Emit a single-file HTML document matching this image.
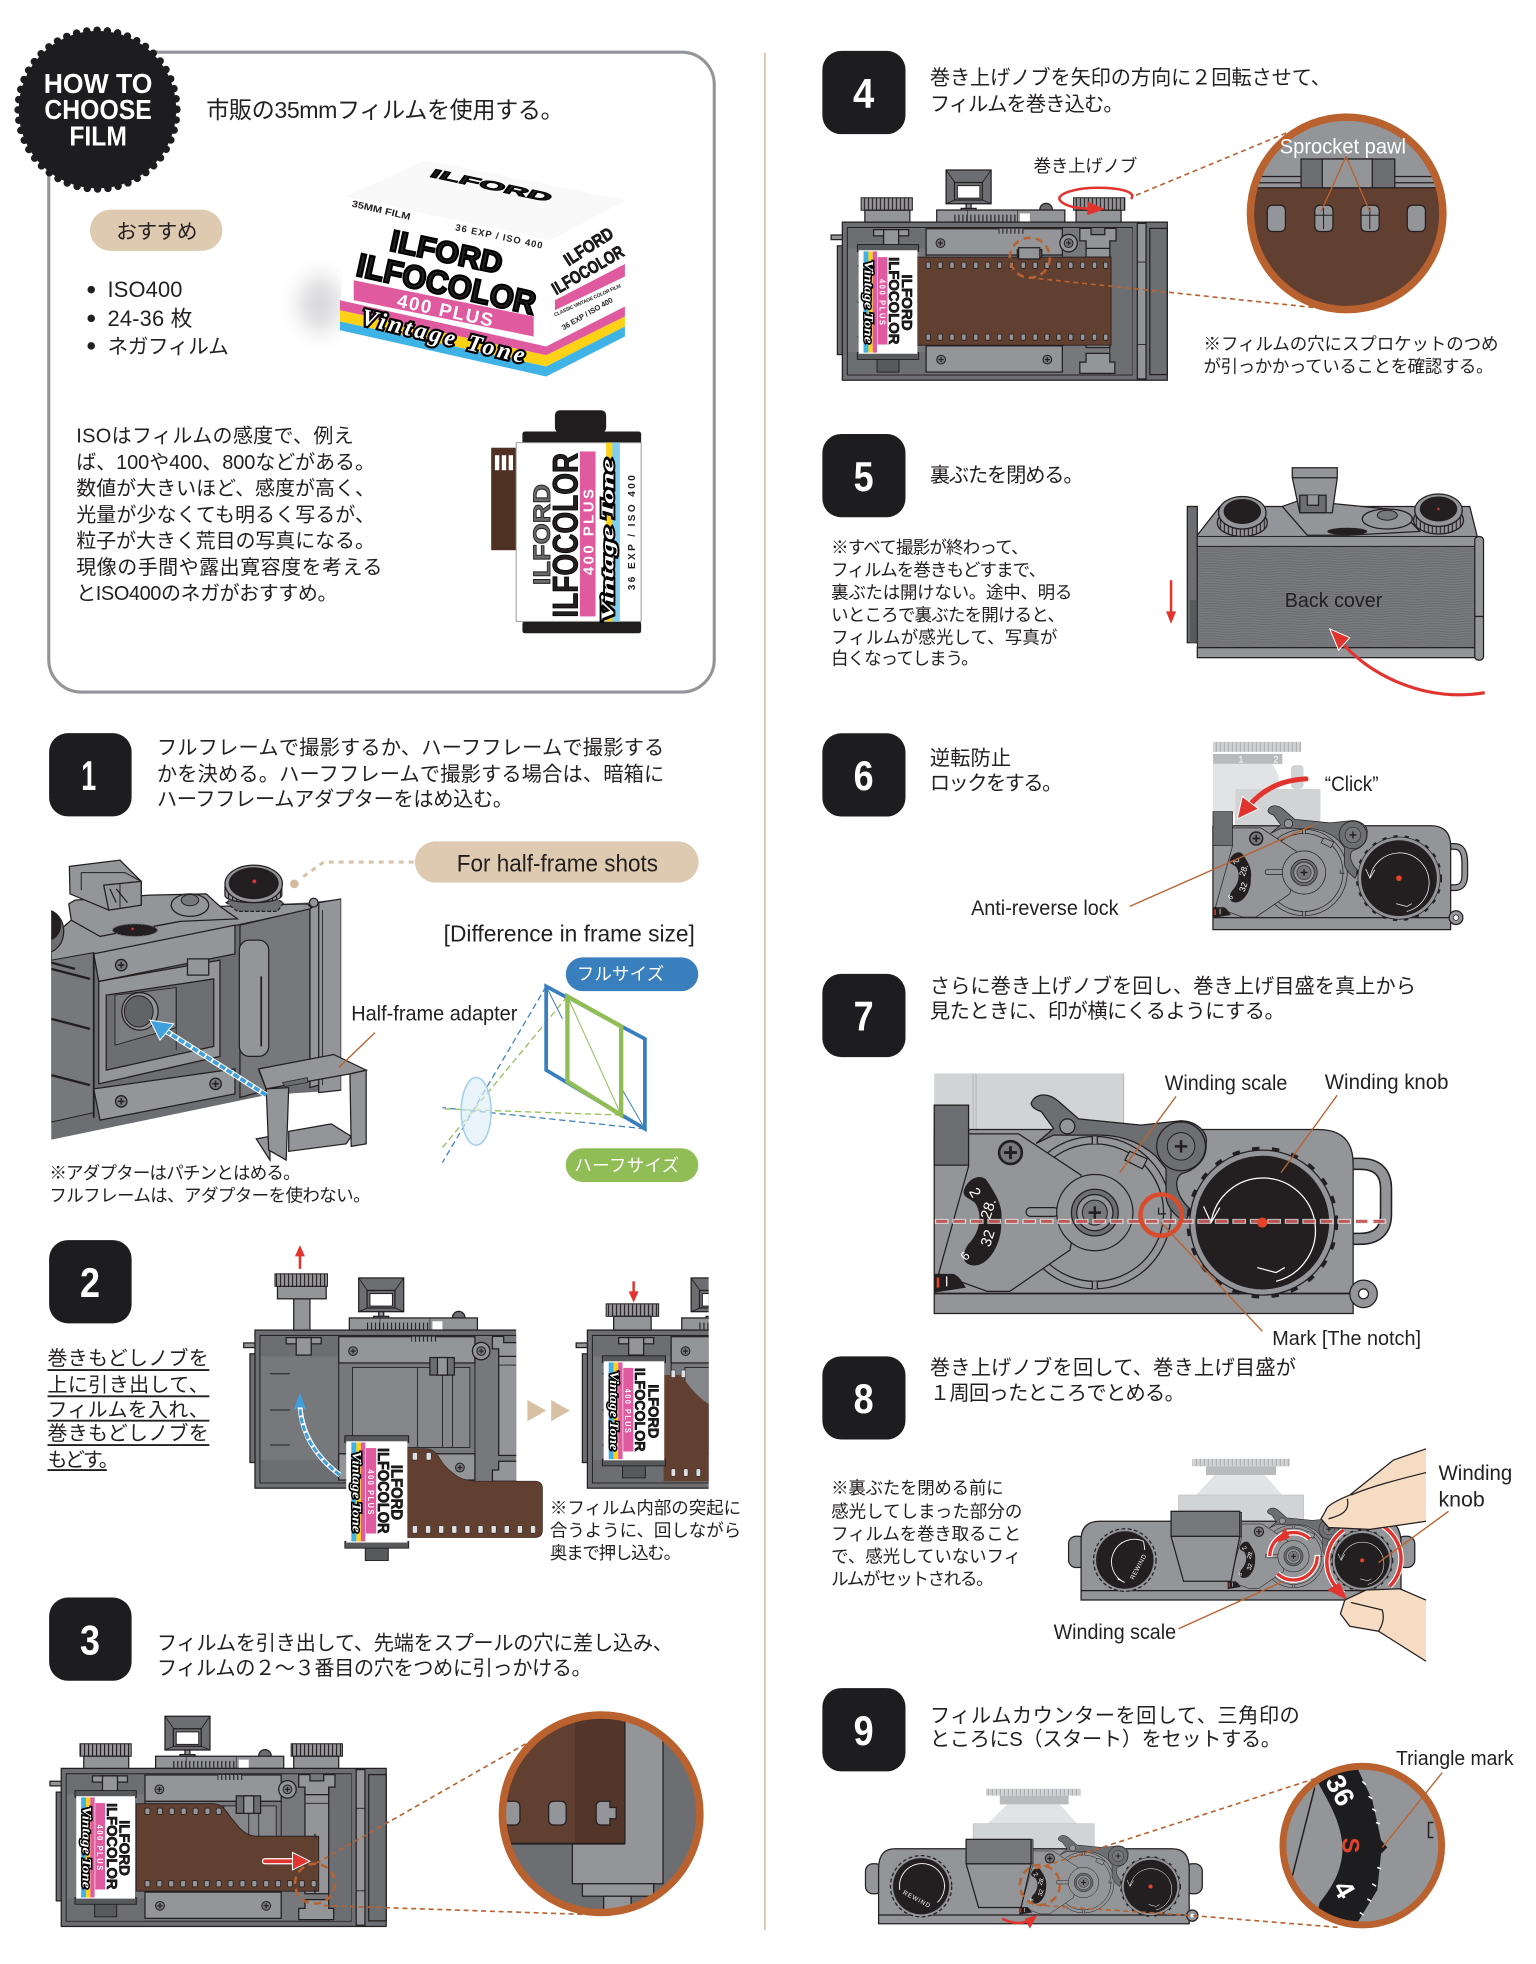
<!DOCTYPE html>
<html lang="ja"><head><meta charset="utf-8"><title>How to choose film</title>
<style>
html,body{margin:0;padding:0;background:#fff}
svg{display:block;width:1536px;height:1964px}
text{font-family:"Liberation Sans","Noto Sans CJK JP",sans-serif;fill:#231f20}
.j{font-size:16.2px}.n{font-size:14px}
.num{font-size:33px;font-weight:700;fill:#fff;text-anchor:middle}
.b{font-weight:700}
.g{fill:#939598;stroke:#231f20;stroke-width:1}
.d{fill:#6d6e71;stroke:#231f20;stroke-width:1}
.m{fill:#77787b;stroke:#231f20;stroke-width:.8}
.ld{stroke:#b9622f;stroke-width:1.1;fill:none}
.dash{stroke:#b9622f;stroke-width:1.3;stroke-dasharray:4 3;fill:none}
.ring{stroke:#b9622f;fill:none}
.scr{font-weight:700;font-style:italic;font-family:"Liberation Serif",serif;fill:#fff;stroke:#000;paint-order:stroke}
</style></head><body>
<svg xmlns="http://www.w3.org/2000/svg" viewBox="0 0 1229 1571">
<defs>
<pattern id="kn" width="3.2" height="10" patternUnits="userSpaceOnUse"><rect width="3.2" height="10" fill="#939598"/><rect width=".9" height="10" fill="#231f20"/></pattern>
<pattern id="kn2" width="3.2" height="10" patternUnits="userSpaceOnUse"><rect width="3.2" height="10" fill="#d1d3d4"/><rect width=".8" height="10" fill="#a7a9ac"/></pattern>
<pattern id="wood" width="30" height="4" patternUnits="userSpaceOnUse"><rect width="30" height="4" fill="#7a7b7e"/><path d="M0 1Q8 .2 15 1.200T30 1M0 3Q9 2.400 17 3.200T30 3" stroke="#66676a" stroke-width=".6" fill="none"/></pattern>
<filter id="bl" x="-100%" y="-100%" width="300%" height="300%"><feGaussianBlur stdDeviation="9"/></filter>
<clipPath id="c1"><rect x="41" y="680" width="232" height="240"/></clipPath>
<clipPath id="c2a"><rect x="190" y="990" width="223" height="210"/></clipPath>
<clipPath id="c2b"><rect x="460" y="1010" width="107" height="190"/></clipPath>
<clipPath id="cc3"><circle cx="481" cy="1451" r="79"/></clipPath>
<clipPath id="cc4"><circle cx="1077.500" cy="170.500" r="77"/></clipPath>
<clipPath id="cc9"><circle cx="1090" cy="1476.500" r="63.500"/></clipPath>
<g id="sc"><circle r="3.500" fill="#77787b" stroke="#231f20" stroke-width=".8"/><path d="M-2 0H2M0-2V2" stroke="#231f20" stroke-width=".9"/></g>
<g id="cam">
<rect x="83" y="-41.700" width="36" height="27" class="d"/><path d="M83-41.700l7 10M119-41.700l-7 10M83-14.700l7-3M119-14.700l-7-3" stroke="#231f20" stroke-width=".7"/><rect x="89.700" y="-31.700" width="22.300" height="14" class="d"/><rect x="92" y="-29.200" width="18" height="10" fill="#fff" stroke="#231f20" stroke-width=".8"/><rect x="99" y="-14.700" width="4" height="6" class="g"/><rect x="95" y="-11" width="12" height="2" class="g"/>
<circle cx="163" cy="-10" r="5" class="d"/>
<rect x="75.500" y="-9.700" width="102.500" height="9.700" class="g"/><rect x="88" y="-6" width="52" height="6" fill="url(#kn)"/><path d="M100-9.700V0M140-9.700V0" stroke="#231f20" stroke-width=".5"/><rect x="142" y="-7" width="8" height="7" fill="#fff"/>
<rect x="-9" y="10.300" width="10" height="3.700" class="g"/><rect x="-4" y="19" width="4.500" height="87" class="d"/>
<rect x="0" y="0" width="260" height="126.500" class="d" stroke-width="1.400"/>
<rect x="4" y="4.300" width="228" height="118" class="m" stroke-width="1.100"/>
<rect x="236" y="1" width="7" height="124.500" class="g"/><rect x="246" y="5" width="14" height="117" class="d"/><path d="M236 32H243M236 98H243" stroke="#231f20" stroke-width=".7"/>
<rect x="4.500" y="5" width="62" height="16" fill="#6d6e71"/><rect x="4.500" y="104" width="62" height="18" fill="#6d6e71"/>
<path d="M12 35H28M12 64H28M12 92H28" stroke="#231f20" stroke-width=".8"/>
<rect x="25" y="6" width="28" height="5" class="g"/><rect x="33" y="6" width="12" height="14" class="g"/>
<rect x="67" y="26.300" width="109" height="72.700" class="m"/><rect x="78" y="30" width="94" height="64" fill="#85868a" stroke="#231f20" stroke-width=".7"/><path d="M130 30V94M150 30V94M158 30V94" stroke="#231f20" stroke-width=".7"/>
<rect x="67" y="5.300" width="109" height="21" class="g"/><rect x="67" y="99" width="109" height="21" class="g"/><rect x="125" y="5.300" width="20" height="4" fill="url(#kn)"/>
<rect x="140" y="22" width="19.500" height="14" class="d"/><rect x="146" y="22" width="8" height="14" class="g"/>
<use href="#sc" x="78.500" y="16.800"/><use href="#sc" x="79" y="110"/><use href="#sc" x="164" y="110"/>
<circle cx="181" cy="16.800" r="7" class="g"/><use href="#sc" x="181" y="16.800"/>
<rect x="214" y="5" width="18" height="117" fill="#6d6e71"/><path d="M214 5V122" stroke="#231f20" stroke-width=".7"/>
<rect x="195" y="16.300" width="19" height="84" class="g"/><path d="M195 28H214" stroke="#231f20" stroke-width=".7"/>
<path d="M190 5h9v5h11v-5h9v10h-5v6h-19v-6h-5z" class="g"/><path d="M190 121v-9h5v-7h19v7h4v9z" class="g"/>
</g>
<g id="cart">
<rect x="15" y="93" width="18" height="13" fill="#58595b" stroke="#231f20" stroke-width=".8"/>
<rect x="-1" y="-5" width="50" height="6" fill="#58595b" stroke="#231f20" stroke-width=".8"/><rect x="-1" y="89" width="50" height="6" fill="#58595b" stroke="#231f20" stroke-width=".8"/>
<rect width="48" height="90" fill="#fff"/>
<rect x="4" y="1" width="4" height="88" fill="#3fb3e6"/><rect x="8" y="1" width="3.500" height="88" fill="#fcd116"/><rect x="11.500" y="1" width="3.500" height="88" fill="#e05aa0"/><rect x="15.500" y="6" width="8" height="76" fill="#e05aa0"/>
<text transform="translate(35.500,21) rotate(90)" class="b" font-size="12" textLength="49" lengthAdjust="spacingAndGlyphs" stroke="#000" stroke-width=".5">ILFORD</text>
<text transform="translate(25,6) rotate(90)" class="b" font-size="12" textLength="76" lengthAdjust="spacingAndGlyphs" stroke="#000" stroke-width=".5">ILFOCOLOR</text>
<text transform="translate(17,25) rotate(90)" class="b" font-size="6.500" style="fill:#fff" textLength="40">400 PLUS</text>
<text transform="translate(5,9) rotate(90)" class="scr" font-size="10" stroke-width="2.400" textLength="72" lengthAdjust="spacingAndGlyphs">Vintage Tone</text>
</g>
<g id="wind">
<path d="M747.500 884H775V932H747.500Z" class="d" stroke-width="1.300"/>
<circle cx="876" cy="970" r="61" class="g" stroke-width="1.300"/><circle cx="876" cy="970" r="55" fill="none" stroke="#231f20" stroke-width="1"/><path d="M876 909V915M876 1025V1031" stroke="#231f20" stroke-width="5"/><path d="M876 909V915M876 1025V1031" stroke="#939598" stroke-width="3"/>
<path d="M904 921L918 927L914 935L900 928Z" class="g"/>
<path d="M775 907H815L865 940V958L856 1000L808 1033H790L751 1019L775 933Z" class="g" stroke-width="1.300"/>
<use href="#sc" transform="translate(808.500,922) scale(2.600)"/>
<path d="M771 953C774 942 786 938 790 945C798 957 803 966 801 978C802 995 790 1015 777 1012C768 1010 771 1000 775 995C785 985 786 970 780 962C775 958 771 958 771 953Z" fill="#231f20"/>
<text transform="translate(775,953) rotate(60)" font-size="12" style="fill:#fff">2</text><text transform="translate(792,976) rotate(-72)" font-size="12" style="fill:#fff">28.</text><text transform="translate(792,998) rotate(-72)" font-size="12" style="fill:#fff">32</text><text transform="translate(773,1009) rotate(-50)" font-size="10" style="fill:#fff">6</text>
<path d="M747.500 1019H763C768 1021 770 1026 773 1030L747.500 1034Z" fill="#231f20"/><rect x="749.500" y="1022" width="2" height="8" fill="#e4432a"/><rect x="757" y="1021" width="1" height="8" fill="#fff"/>
<rect x="821" y="966" width="26" height="7" rx="3.500" class="g"/>
<circle cx="876" cy="970" r="30.500" class="g" stroke-width="1.300"/><circle cx="876" cy="970" r="18.700" class="d" stroke-width="1.200"/><circle cx="876" cy="970" r="14.500" class="g"/><circle cx="876" cy="970" r="10" class="m"/><path d="M871 970H881M876 965V975" stroke="#231f20" stroke-width="2"/>
<path d="M825 883C827 875 838 873 847 881L863 895L913 900L945 896.500C958 897 967 906 965 915C966 928 956 936 945 939C938 945 942 958 953 968L948 978C940 972 934 966 933 958V935L925 925C915 916 900 908 880 908C865 908 855 908 843 908L829 914.700L843 902.700L833 889C829 888 826 886 825 883Z" class="d" stroke-width="1.300"/>
<circle cx="854" cy="901" r="6" class="g"/>
<circle cx="945" cy="917" r="19.500" class="d" stroke-width="1.300"/><circle cx="945" cy="917" r="11" class="m" stroke-width="1.300"/><path d="M940 917H950M945 912V922" stroke="#231f20" stroke-width="2"/>
<path d="M927 966V971H933" fill="none" stroke="#231f20"/>
<circle cx="1010" cy="978" r="58" class="g" stroke-width="1.300"/><circle cx="1010" cy="978" r="59.500" fill="none" stroke="#231f20" stroke-width="2.500" stroke-dasharray="6 10"/><circle cx="1010" cy="978" r="53.500" fill="#231f20"/>
<path d="M1021 1025A42 42 0 1 0 969 978M963 965L969 978L976 966M1006 1014L1021 1018L1028 1014" fill="none" stroke="#fff" stroke-width="1"/><circle cx="1010" cy="978" r="4" fill="#e4432a"/>
</g>
</defs>
<rect width="1229" height="1571" fill="#fff"/>
<line x1="612" y1="42" x2="612" y2="1544" stroke="#dcc5b0" stroke-width="1.500"/>

<!-- HOW TO box -->
<rect x="39" y="41.500" width="532.500" height="512" rx="26" fill="#fff" stroke="#939598" stroke-width="2.500"/>
<circle cx="78" cy="87.500" r="63" fill="#1d1c1e"/><circle cx="78" cy="87.500" r="63.500" fill="none" stroke="#1d1c1e" stroke-width="6" stroke-linecap="round" stroke-dasharray="0 8.300"/>
<text x="78.500" y="74" text-anchor="middle" class="b" font-size="22" style="fill:#fff" textLength="87" lengthAdjust="spacingAndGlyphs">HOW TO</text>
<text x="78.500" y="95" text-anchor="middle" class="b" font-size="22" style="fill:#fff" textLength="86" lengthAdjust="spacingAndGlyphs">CHOOSE</text>
<text x="78.500" y="116" text-anchor="middle" class="b" font-size="22" style="fill:#fff" textLength="46" lengthAdjust="spacingAndGlyphs">FILM</text>
<text x="165" y="94" font-size="18.500" textLength="286">市販の35mmフィルムを使用する。</text>
<rect x="72" y="167.500" width="106" height="33" rx="16.500" fill="#decab0"/><text x="93" y="190.500" font-size="16.500" textLength="65">おすすめ</text>
<circle cx="73" cy="231.500" r="3" fill="#231f20"/><circle cx="73" cy="254.500" r="3" fill="#231f20"/><circle cx="73" cy="276.500" r="3" fill="#231f20"/>
<text x="86" y="237.500" font-size="17.500" textLength="60">ISO400</text><text x="86" y="260.500" font-size="17.500" textLength="68">24-36 枚</text><text x="86" y="282.500" font-size="16.500" textLength="97">ネガフィルム</text>
<g font-size="16">
<text x="61" y="354" textLength="222">ISOはフィルムの感度で、例え</text>
<text x="61" y="375" textLength="239">ば、100や400、800などがある。</text>
<text x="61" y="396" textLength="239">数値が大きいほど、感度が高く、</text>
<text x="61" y="417" textLength="239">光量が少なくても明るく写るが、</text>
<text x="61" y="438" textLength="239">粒子が大きく荒目の写真になる。</text>
<text x="61" y="459" textLength="245">現像の手間や露出寛容度を考える</text>
<text x="61" y="480" textLength="209">とISO400のネガがおすすめ。</text>
</g>
<!-- film box -->
<ellipse cx="256" cy="243" rx="16" ry="22" fill="#d6d6d8" filter="url(#bl)"/>
<path d="M276 157L341 128L501 160L440 192Z" fill="#f9f9fa"/>
<path d="M276 157L440 192L437 301L272 264Z" fill="#fff"/>
<path d="M440 192L501 160L500 269L437 301Z" fill="#fefefe"/>
<path d="M272 240L437 277L500 245V253L437 284L272 248Z" fill="#e05aa0"/><path d="M272 248L437 284L500 253V261L437 293L272 257Z" fill="#fcd116"/><path d="M272 257L437 293L500 261V269L437 301L272 264Z" fill="#3fb3e6"/>
<path d="M283 224L427 253V269L283 240Z" fill="#e05aa0"/>
<path d="M444 240L500 211V221L444 248Z" fill="#e05aa0"/>
<text transform="translate(281,165) rotate(13)" class="b" font-size="7.500" textLength="48" lengthAdjust="spacingAndGlyphs">35MM FILM</text>
<text transform="translate(364,184) rotate(12)" class="b" font-size="7.500" textLength="71">36 EXP / ISO 400</text>
<text transform="translate(311,200) rotate(12)" class="b" font-size="24" stroke="#000" stroke-width="1.800" textLength="91" lengthAdjust="spacingAndGlyphs">ILFORD</text>
<text transform="translate(284,220) rotate(12.500)" class="b" font-size="26" stroke="#000" stroke-width="1.800" textLength="146" lengthAdjust="spacingAndGlyphs">ILFOCOLOR</text>
<text transform="translate(317,245) rotate(12)" class="b" font-size="15" style="fill:#fff" textLength="78">400 PLUS</text>
<text transform="translate(288,259) rotate(13.500)" class="scr" font-size="19" stroke-width="3.500" textLength="134">Vintage Tone</text>
<text transform="translate(343,141) rotate(12) skewX(-25)" class="b" font-size="10" stroke="#000" stroke-width=".7" textLength="98" lengthAdjust="spacingAndGlyphs">ILFORD</text>
<text transform="translate(455,213) rotate(-33)" class="b" font-size="14" stroke="#000" stroke-width=".5" textLength="44" lengthAdjust="spacingAndGlyphs">ILFORD</text>
<text transform="translate(445,236) rotate(-30)" class="b" font-size="14" stroke="#000" stroke-width=".5" textLength="64" lengthAdjust="spacingAndGlyphs">ILFOCOLOR</text>
<text transform="translate(444,253) rotate(-24)" class="b" font-size="4" textLength="58">CLASSIC VINTAGE COLOR FILM</text>
<text transform="translate(451,264) rotate(-30)" class="b" font-size="6" textLength="46">36 EXP / ISO 400</text>
<!-- big cartridge -->
<rect x="393" y="358" width="21" height="82" fill="#4f3124"/><g fill="#fff"><rect x="396" y="364" width="3.500" height="12"/><rect x="401.500" y="364" width="3.500" height="12"/><rect x="407" y="364" width="3.500" height="12"/></g>
<rect x="444" y="328" width="41" height="18" rx="4" fill="#1f1d1e"/><rect x="418" y="345" width="95" height="10" rx="2" fill="#1f1d1e"/><rect x="418" y="497" width="95" height="9.500" rx="2" fill="#1f1d1e"/>
<rect x="413" y="354" width="100" height="143" fill="#fff" stroke="#9a9a9c" stroke-width=".8"/>
<rect x="464" y="361" width="12.500" height="132" fill="#e05aa0"/><rect x="485" y="354" width="5" height="143" fill="#fcd116"/><rect x="490" y="354" width="6" height="143" fill="#7fcdf0"/>
<text transform="translate(440,468) rotate(-90)" class="b" font-size="19" stroke="#222" stroke-width=".7" style="fill:#6a6a6c" textLength="81" lengthAdjust="spacingAndGlyphs">ILFORD</text>
<text transform="translate(462,494) rotate(-90)" class="b" font-size="28" stroke="#000" stroke-width=".7" textLength="132" lengthAdjust="spacingAndGlyphs">ILFOCOLOR</text>
<text transform="translate(475,460) rotate(-90)" class="b" font-size="12" style="fill:#fff" textLength="69">400 PLUS</text>
<text transform="translate(491,497) rotate(-90)" class="scr" font-size="14" stroke-width="3" textLength="130" lengthAdjust="spacingAndGlyphs">Vintage Tone</text>
<text transform="translate(508,472) rotate(-90)" class="b" font-size="8" textLength="92">36 EXP / ISO 400</text>

<!-- badges -->
<g fill="#1d1c1e"><rect x="39.300" y="586.400" width="66" height="66.600" rx="15"/><rect x="39.300" y="992" width="66" height="66.600" rx="15"/><rect x="39.300" y="1278" width="66" height="66.600" rx="15"/>
<rect x="658" y="40.500" width="66.500" height="66.600" rx="15"/><rect x="658" y="347" width="66.500" height="66.600" rx="15"/><rect x="658" y="586.500" width="66.500" height="66.600" rx="15"/><rect x="658" y="779" width="66.500" height="66.600" rx="15"/><rect x="658" y="1085" width="66.500" height="66.600" rx="15"/><rect x="658" y="1350.500" width="66.500" height="66.600" rx="15"/></g>
<text class="num" x="71" y="632" textLength="12" lengthAdjust="spacingAndGlyphs">1</text><text class="num" x="72" y="1037.500" textLength="16" lengthAdjust="spacingAndGlyphs">2</text><text class="num" x="72" y="1323.500" textLength="16" lengthAdjust="spacingAndGlyphs">3</text>
<text class="num" x="691" y="86" textLength="17" lengthAdjust="spacingAndGlyphs">4</text><text class="num" x="691" y="392.500" textLength="16" lengthAdjust="spacingAndGlyphs">5</text><text class="num" x="691" y="632" textLength="16" lengthAdjust="spacingAndGlyphs">6</text><text class="num" x="691" y="824.500" textLength="16" lengthAdjust="spacingAndGlyphs">7</text><text class="num" x="691" y="1130.500" textLength="16" lengthAdjust="spacingAndGlyphs">8</text><text class="num" x="691" y="1396" textLength="16" lengthAdjust="spacingAndGlyphs">9</text>

<!-- STEP 1 -->
<text x="125.500" y="603.500" class="j" textLength="406">フルフレームで撮影するか、ハーフフレームで撮影する</text>
<text x="125.500" y="624.500" class="j" textLength="406">かを決める。ハーフフレームで撮影する場合は、暗箱に</text>
<text x="125.500" y="644.500" class="j" textLength="285">ハーフフレームアダプターをはめ込む。</text>
<rect x="332" y="673" width="227" height="33" rx="16.500" fill="#decab0"/><text x="365.500" y="697" font-size="19" textLength="161" lengthAdjust="spacingAndGlyphs">For half-frame shots</text>
<path d="M331 689.500H259L240 703" fill="none" stroke="#d8c4ac" stroke-width="2.500" stroke-dasharray="4 4"/><circle cx="235.500" cy="707" r="3.500" fill="#d2bca2"/>
<text x="355" y="753" font-size="18.500" textLength="201" lengthAdjust="spacingAndGlyphs">[Difference in frame size]</text>
<rect x="452.700" y="765.800" width="106" height="27" rx="13.500" fill="#3a7fbd"/><text x="461.500" y="784" font-size="14" style="fill:#fff" textLength="70">フルサイズ</text>
<rect x="452.700" y="918.500" width="106" height="27" rx="13.500" fill="#90bd55"/><text x="459.500" y="937" font-size="14" style="fill:#fff" textLength="84">ハーフサイズ</text>
<!-- lens diagram -->
<path d="M437 789L354 930M516 903L354 886" stroke="#3a7fbd" stroke-width="1" stroke-dasharray="5 3" fill="none"/><path d="M454 797L354 918M497 892L354 887" stroke="#90bd55" stroke-width="1" stroke-dasharray="5 3" fill="none"/>
<ellipse cx="381" cy="889" rx="12" ry="27" fill="#dbeef8" fill-opacity=".65" stroke="#a6d1ea" stroke-width="1.300"/>
<path d="M437 789L516 831V903L437 856Z" fill="none" stroke="#3a7fbd" stroke-width="3"/>
<path d="M437 789L450 815M497 870L516 903" stroke="#3a7fbd" stroke-width=".8"/>
<path d="M454 797L497 821V892L454 865Z" fill="#fff" fill-opacity=".75" stroke="#90bd55" stroke-width="3.500"/><path d="M454 797L497 892" stroke="#90bd55" stroke-width=".8"/>
<!-- camera 1 -->
<g clip-path="url(#c1)">
<path d="M30 770L41 750L55 738L80 749L144 737L176 725L245 722L273 719V872L213 876L30 914Z" fill="#6d6e71"/>
<path d="M41 767L41 750L57 736L80 749L144 737L176 725L246 723L250 727L41 772Z" class="g"/>
<path d="M30 770L75 762V890L30 900Z" fill="#77787b" stroke="#231f20" stroke-width=".8"/>
<path d="M41 775L72 783M41 815L72 823M41 860L72 868M41 770L60 775" stroke="#231f20" stroke-width="1.800"/><path d="M75 762V894" stroke="#231f20" stroke-width="1.500"/>
<path d="M192 740L248 727V862L192 878Z" fill="#77787b" stroke="#231f20"/>
<rect x="191.500" y="752" width="23.500" height="93" rx="8" class="g"/><path d="M209 781V837" stroke="#231f20" stroke-width="1.400"/>
<path d="M248 727L255 722V868L248 870ZM255 722L273 719V872L255 874Z" class="g"/><circle cx="251" cy="722" r="3.500" class="g"/><path d="M258 728V868" stroke="#231f20" stroke-width=".7"/>
<path d="M79 785L176 768V845L79 867Z" class="g"/>
<path d="M85 796L171 783V837L85 856Z" fill="#6d6e71" stroke="#231f20"/><path d="M92 796V836L141 822V790Z" fill="#7b7c7f" stroke="#231f20" stroke-width=".7"/><path d="M141 790V840" stroke="#231f20" stroke-width=".7"/>
<ellipse cx="112" cy="809" rx="14.500" ry="15" class="g"/><ellipse cx="111" cy="809" rx="11.500" ry="12.500" fill="#626366" stroke="#231f20" stroke-width=".8"/>
<path d="M75 763L188 740V763L79 785Z" class="g"/><use href="#sc" transform="translate(97,772) scale(1.300)"/>
<rect x="150" y="767" width="17" height="13" class="g"/>
<path d="M75 871L188 855V875L80 896Z" class="g"/><use href="#sc" transform="translate(97,881) scale(1.300)"/><use href="#sc" transform="translate(172.500,867) scale(1.300)"/>
<ellipse cx="37" cy="745" rx="14" ry="17" class="d"/><ellipse cx="36" cy="740" rx="13" ry="13" fill="#231f20"/>
<path d="M55 723L60 720L120 716L165 715L176 725L190 735L144 737L80 749L57 736Z" class="g"/>
<ellipse cx="108" cy="744" rx="18" ry="5" fill="#231f20" stroke="#6d6e71" stroke-width=".8" stroke-dasharray="2 1"/><circle cx="106" cy="743" r="1" fill="#e1342e"/>
<ellipse cx="152" cy="724" rx="15" ry="9" class="g"/><ellipse cx="152" cy="720" rx="7" ry="4.500" class="m"/>
<path d="M55.500 693L96 688L113 705V724L87 728L56 715Z" class="g"/><path d="M65 698V712M65 698H100L113 705" fill="none" stroke="#231f20" stroke-width=".8"/>
<path d="M83 708L113 705V724L87 728Z" fill="#939598" stroke="#231f20"/><path d="M96 707V726" stroke="#231f20" stroke-width=".8"/><path d="M88 711L93 722M93 711L102 722" stroke="#231f20" stroke-width="1"/>
<path d="M181 722L190 716L215 716L227 722L222 729H190Z" class="d" stroke-dasharray="3 1.500"/>
<path d="M180 709V716C180 724 225 724 225.500 716V709Z" fill="url(#kn)" stroke="#231f20"/>
<ellipse cx="203" cy="707" rx="23" ry="15" class="g"/><ellipse cx="203" cy="706.500" rx="20" ry="12.800" fill="#231f20"/><circle cx="203.500" cy="705" r="1.500" fill="#e1342e"/>
</g>
<!-- adapter -->
<path d="M231 905L265 899L281 909L277 915L231 921Z" class="g"/><path d="M205 911L216 909V928Z" class="g"/>
<path d="M280 859L293 856V915L281 917Z" class="g"/>
<path d="M207 856L213 871L231 870L229 928L215 920L213 871Z" class="g"/>
<path d="M207 855L267 843.500L293 856L280 859L224 869L213 871Z" class="g" stroke-width="1.200"/><path d="M226 866L246 862V866L228 869Z" fill="#6d6e71" stroke="#231f20" stroke-width=".6"/>
<path d="M213 876L127 821" stroke="#fff" stroke-width="4.500"/><path d="M213 876L127 821" stroke="#3fa0de" stroke-width="3" stroke-dasharray="5 1.500"/><path d="M120 816L139 819L128 832Z" fill="#3fa0de" stroke="#fff" stroke-width=".8"/>
<line x1="300" y1="826" x2="271" y2="854" class="ld"/>
<text x="281" y="816.500" font-size="17" textLength="133" lengthAdjust="spacingAndGlyphs">Half-frame adapter</text>
<text x="39.500" y="943" class="n" textLength="201">※アダプターはパチンとはめる。</text>
<text x="39.500" y="961" class="n" textLength="257">フルフレームは、アダプターを使わない。</text>

<!-- STEP 2 -->
<g font-size="16"><text x="38" y="1092" textLength="129">巻きもどしノブを</text><text x="38" y="1113" textLength="129">上に引き出して、</text><text x="38" y="1133" textLength="129">フィルムを入れ、</text><text x="38" y="1152" textLength="129">巻きもどしノブを</text><text x="38" y="1173" textLength="57">もどす。</text></g>
<path d="M38 1096H167.500M38 1117H167.500M38 1136.500H167.500M38 1156H167.500M38 1176H85.500" stroke="#231f20" stroke-width="1.500"/>
<path d="M240 1015V1003" stroke="#e1342e" stroke-width="2"/><path d="M240 996L244 1005H236Z" fill="#e1342e"/>
<g clip-path="url(#c2a)"><use href="#cam" transform="translate(204,1064)"/>
<rect x="235" y="1039" width="13" height="25" class="g"/><rect x="222" y="1029" width="39" height="10" class="g"/><rect x="220" y="1019" width="42" height="10" fill="url(#kn)" stroke="#231f20" stroke-width=".8"/></g>
<path d="M272 1180C252 1165 240 1145 240 1121" fill="none" stroke="#fff" stroke-width="4"/><path d="M272 1180C252 1165 240 1145 240 1124" fill="none" stroke="#3fa0de" stroke-width="2.500" stroke-dasharray="5 1.500"/><path d="M240 1114L245 1128L240 1125L235 1128Z" fill="#3fa0de"/>
<path d="M326 1159H340C352 1159 350 1170 362 1178C368 1184 376 1185 385 1185H428Q434 1185 434 1191V1224Q434 1230 428 1230H326Z" fill="#613f31" stroke="#3b2a22" stroke-width=".6"/>
<g fill="#dfe0e1" stroke="#231f20" stroke-width=".4"><rect x="330" y="1162" width="4" height="6" rx="1"/><rect x="341" y="1162" width="4" height="6" rx="1"/><rect x="330" y="1220.500" width="4" height="6" rx="1"/><rect x="340.500" y="1220.500" width="4" height="6" rx="1"/><rect x="351" y="1220.500" width="4" height="6" rx="1"/><rect x="361.500" y="1220.500" width="4" height="6" rx="1"/><rect x="372" y="1220.500" width="4" height="6" rx="1"/><rect x="382.500" y="1220.500" width="4" height="6" rx="1"/><rect x="393" y="1220.500" width="4" height="6" rx="1"/><rect x="403.500" y="1220.500" width="4" height="6" rx="1"/><rect x="414" y="1220.500" width="4" height="6" rx="1"/><rect x="424.500" y="1220.500" width="4" height="6" rx="1"/></g>
<use href="#cart" transform="translate(277,1153) scale(1.020,.9)"/>
<path d="M422 1120L437 1128.500L422 1137ZM441 1120L456 1128.500L441 1137Z" fill="#d8c0a4"/>
<path d="M507 1025V1035" stroke="#e1342e" stroke-width="2"/><path d="M507 1042L503 1033H511Z" fill="#e1342e"/>
<g clip-path="url(#c2b)"><use href="#cam" transform="translate(470,1064)"/>
<rect x="485" y="1043" width="42" height="10" fill="url(#kn)" stroke="#231f20" stroke-width=".8"/><rect x="491" y="1053" width="30" height="11" class="g"/>
<path d="M531 1100H545C552 1110 558 1118 570 1125V1185H531Z" fill="#613f31"/>
<g fill="#dfe0e1" stroke="#231f20" stroke-width=".4"><rect x="537" y="1096" width="3.500" height="6" rx="1"/><rect x="545" y="1096" width="3.500" height="6" rx="1"/><rect x="537" y="1175" width="3.500" height="6" rx="1"/><rect x="547" y="1175" width="3.500" height="6" rx="1"/><rect x="557" y="1175" width="3.500" height="6" rx="1"/></g>
<use href="#cart" transform="translate(483,1089) scale(1.010,.88)"/></g>
<text x="440" y="1211" class="n" textLength="153">※フィルム内部の突起に</text><text x="440" y="1229" class="n" textLength="153">合うように、回しながら</text><text x="440" y="1247" class="n" textLength="105">奥まで押し込む。</text>

<!-- STEP 3 -->
<text x="125.500" y="1320" class="j" textLength="413">フィルムを引き出して、先端をスプールの穴に差し込み、</text>
<text x="125.500" y="1340" class="j" textLength="348">フィルムの２～３番目の穴をつめに引っかける。</text>
<use href="#cam" transform="translate(49,1414.700)"/>
<rect x="64" y="1395" width="41" height="10" fill="url(#kn)" stroke="#231f20" stroke-width=".8"/><rect x="67" y="1405" width="36" height="9.700" class="g"/>
<rect x="233" y="1395" width="41" height="10" fill="url(#kn)" stroke="#231f20" stroke-width=".8"/><rect x="235" y="1405" width="36" height="9.700" class="g"/>
<path d="M109 1443H170C180 1443 182 1452 188 1458C194 1466 200 1469 205 1469H255V1513H109Z" fill="#613f31" stroke="#231f20" stroke-width=".7"/><path d="M252 1467V1470M252 1511V1515" stroke="#231f20"/>
<g fill="#939598" stroke="#231f20" stroke-width=".6"><rect x="116" y="1446.500" width="4" height="5" rx="1"/><rect x="126" y="1446.500" width="4" height="5" rx="1"/><rect x="135.500" y="1446.500" width="4" height="5" rx="1"/><rect x="145" y="1446.500" width="4" height="5" rx="1"/><rect x="154.500" y="1446.500" width="4" height="5" rx="1"/><rect x="164" y="1446.500" width="4" height="5" rx="1"/><rect x="173" y="1446.500" width="4" height="5" rx="1"/>
<rect x="116" y="1504.500" width="4" height="5" rx="1"/><rect x="125.500" y="1504.500" width="4" height="5" rx="1"/><rect x="135" y="1504.500" width="4" height="5" rx="1"/><rect x="144.500" y="1504.500" width="4" height="5" rx="1"/><rect x="154" y="1504.500" width="4" height="5" rx="1"/><rect x="163.500" y="1504.500" width="4" height="5" rx="1"/><rect x="173" y="1504.500" width="4" height="5" rx="1"/><rect x="182.500" y="1504.500" width="4" height="5" rx="1"/><rect x="192" y="1504.500" width="4" height="5" rx="1"/><rect x="201.500" y="1504.500" width="4" height="5" rx="1"/><rect x="211" y="1504.500" width="4" height="5" rx="1"/><rect x="220.500" y="1504.500" width="4" height="5" rx="1"/><rect x="230" y="1504.500" width="4" height="5" rx="1"/><rect x="239.500" y="1504.500" width="4" height="5" rx="1"/><rect x="249" y="1504.500" width="4" height="5" rx="1"/></g>
<use href="#cart" transform="translate(61,1437) scale(.98,.91)"/>
<path d="M212 1489H238" stroke="#fff" stroke-width="5" stroke-linecap="round"/><path d="M212 1489H238" stroke="#e1342e" stroke-width="3" stroke-linecap="round"/><path d="M248 1489L234 1482V1496Z" fill="#e1342e" stroke="#fff" stroke-width=".8"/>
<circle cx="252" cy="1507" r="16" class="ring" stroke-width="2" stroke-dasharray="6 4"/>
<path d="M253 1490.700L426 1392M259 1524.500L481 1532" class="dash"/>
<g clip-path="url(#cc3)"><rect x="400" y="1368" width="165" height="165" fill="#6d6e71"/><rect x="400" y="1368" width="100" height="107" fill="#613f31"/><rect x="460" y="1368" width="40" height="107" fill="#54352a"/>
<path d="M500 1368H530.500V1507H458V1475H500Z" class="g"/><rect x="466" y="1507" width="57" height="10" class="g"/><rect x="483" y="1517" width="22" height="20" class="g"/><path d="M400 1475H500" stroke="#231f20" stroke-width="1.500"/>
<g fill="#939598" stroke="#231f20"><rect x="395" y="1441" width="21" height="19" rx="4"/><rect x="439" y="1441" width="14" height="19" rx="4"/><path d="M481 1441H488V1446H493V1455H488V1460H481Q477 1460 477 1456V1445Q477 1441 481 1441Z"/></g></g>
<circle cx="481" cy="1451" r="79" class="ring" stroke-width="6"/>

<!-- STEP 4 -->
<text x="744" y="67.500" class="j" textLength="321">巻き上げノブを矢印の方向に２回転させて、</text>
<text x="744" y="88.500" class="j" textLength="155">フィルムを巻き込む。</text>
<text x="827" y="137.500" font-size="14" textLength="83">巻き上げノブ</text>
<use href="#cam" transform="translate(674,177.500)"/>
<rect x="689" y="158" width="41" height="10" fill="url(#kn)" stroke="#231f20" stroke-width=".8"/><rect x="692" y="168" width="36" height="9.500" class="g"/>
<rect x="859" y="158" width="41" height="10" fill="url(#kn)" stroke="#231f20" stroke-width=".8"/><rect x="861" y="168" width="36" height="9.500" class="g"/>
<rect x="734" y="205.500" width="155" height="70.500" fill="#613f31" stroke="#231f20" stroke-width=".7"/>
<g fill="#939598" stroke="#231f20" stroke-width=".6"><rect x="741" y="209.500" width="3.500" height="5" rx="1"/><rect x="750.500" y="209.500" width="3.500" height="5" rx="1"/><rect x="760" y="209.500" width="3.500" height="5" rx="1"/><rect x="769.500" y="209.500" width="3.500" height="5" rx="1"/><rect x="779" y="209.500" width="3.500" height="5" rx="1"/><rect x="788.500" y="209.500" width="3.500" height="5" rx="1"/><rect x="798" y="209.500" width="3.500" height="5" rx="1"/><rect x="807.500" y="209.500" width="3.500" height="5" rx="1"/><rect x="817" y="209.500" width="3.500" height="5" rx="1"/><rect x="826.500" y="209.500" width="3.500" height="5" rx="1"/><rect x="836" y="209.500" width="3.500" height="5" rx="1"/><rect x="845.500" y="209.500" width="3.500" height="5" rx="1"/><rect x="855" y="209.500" width="3.500" height="5" rx="1"/><rect x="864.500" y="209.500" width="3.500" height="5" rx="1"/><rect x="874" y="209.500" width="3.500" height="5" rx="1"/><rect x="883" y="209.500" width="3.500" height="5" rx="1"/>
<rect x="741" y="267" width="3.500" height="5" rx="1"/><rect x="750.500" y="267" width="3.500" height="5" rx="1"/><rect x="760" y="267" width="3.500" height="5" rx="1"/><rect x="769.500" y="267" width="3.500" height="5" rx="1"/><rect x="779" y="267" width="3.500" height="5" rx="1"/><rect x="788.500" y="267" width="3.500" height="5" rx="1"/><rect x="798" y="267" width="3.500" height="5" rx="1"/><rect x="807.500" y="267" width="3.500" height="5" rx="1"/><rect x="817" y="267" width="3.500" height="5" rx="1"/><rect x="826.500" y="267" width="3.500" height="5" rx="1"/><rect x="836" y="267" width="3.500" height="5" rx="1"/><rect x="845.500" y="267" width="3.500" height="5" rx="1"/><rect x="855" y="267" width="3.500" height="5" rx="1"/><rect x="864.500" y="267" width="3.500" height="5" rx="1"/><rect x="874" y="267" width="3.500" height="5" rx="1"/><rect x="883" y="267" width="3.500" height="5" rx="1"/></g>
<rect x="815" y="198" width="17" height="9" class="g"/>
<use href="#cart" transform="translate(687,200) scale(.98,.92)"/>
<circle cx="824" cy="206" r="16" class="ring" stroke-width="2" stroke-dasharray="6 4"/>
<path d="M905 159C910 153 895 150 878 150C860 150 845 155 848 160C852 165 862 167 880 167" fill="none" stroke="#e1342e" stroke-width="2"/><path d="M884 167L870 161V172Z" fill="#e1342e"/>
<path d="M909 156L1032 105M824 222L1053 246" class="dash"/>
<g clip-path="url(#cc4)"><rect x="995" y="90" width="170" height="62" fill="#939598"/><rect x="995" y="150" width="170" height="105" fill="#613f31"/>
<path d="M995 141H1165M995 146H1165M995 150H1165" stroke="#231f20" stroke-width="1"/>
<rect x="1041" y="127" width="75" height="23" class="d"/><rect x="1058" y="127" width="40" height="23" class="g"/>
<g class="g"><rect x="1014" y="164" width="14.500" height="21" rx="4"/><rect x="1052" y="164" width="14.500" height="21" rx="4"/><rect x="1089" y="164" width="14.500" height="21" rx="4"/><rect x="1126" y="164" width="14.500" height="21" rx="4"/></g><path d="M1052 172H1066M1089 172H1103M1059 166V183M1096 166V183" stroke="#231f20" stroke-width=".8"/></g>
<circle cx="1077.500" cy="170.500" r="77" class="ring" stroke-width="6"/>
<path d="M1077 125L1057 169M1077 125L1096 169" stroke="#b9622f" stroke-width="1.100" fill="none"/>
<text x="1024" y="122.500" font-size="17" style="fill:#fff" textLength="101" lengthAdjust="spacingAndGlyphs">Sprocket pawl</text>
<text x="963" y="280" class="n" textLength="236">※フィルムの穴にスプロケットのつめ</text>
<text x="963" y="298" class="n" textLength="232">が引っかかっていることを確認する。</text>

<!-- STEP 5 -->
<text x="744" y="385.500" class="j" textLength="123">裏ぶたを閉める。</text>
<text x="665" y="442.500" class="n" textLength="158">※すべて撮影が終わって、</text><text x="665" y="460.500" class="n" textLength="172">フィルムを巻きもどすまで、</text><text x="665" y="478.500" class="n" textLength="193">裏ぶたは開けない。途中、明る</text><text x="665" y="496.500" class="n" textLength="187">いところで裏ぶたを開けると、</text><text x="665" y="514.500" class="n" textLength="181">フィルムが感光して、写真が</text><text x="665" y="531.500" class="n" textLength="118">白くなってしまう。</text>
<rect x="950" y="405" width="8" height="109" class="d"/><rect x="952" y="480" width="6" height="34" fill="#58595b"/>
<path d="M958 437V428L976 405H1176L1182 429V437Z" class="g"/>
<rect x="958" y="429" width="223" height="8" fill="#939598" stroke="#231f20" stroke-width=".8"/>
<rect x="958" y="437" width="223" height="81" fill="url(#wood)" stroke="#231f20" stroke-width=".8"/><rect x="958" y="518" width="223" height="8" class="g"/>
<rect x="1180" y="429" width="7" height="99" rx="3" class="g"/><path d="M1180 493H1187" stroke="#231f20"/>
<path d="M1026 405L1040 400L1120 408L1136 425L1078 428L1046 428Z" class="g"/><ellipse cx="1078" cy="425" rx="16" ry="3" fill="#231f20"/>
<path d="M1034 374H1070V382L1066 410H1040L1034 382Z" class="g"/><path d="M1034 382H1070" stroke="#231f20"/><rect x="1040" y="396" width="21" height="14" class="d"/><path d="M1046 396V404H1055V396" fill="#939598" stroke="#231f20"/>
<ellipse cx="1110" cy="415" rx="20" ry="8" class="g"/><ellipse cx="1110" cy="412" rx="8" ry="4" class="m"/>
<ellipse cx="994" cy="418" rx="20" ry="11" fill="url(#kn)" stroke="#231f20"/><ellipse cx="994" cy="410" rx="19" ry="13" class="g"/><ellipse cx="994" cy="409" rx="15" ry="10" fill="#231f20"/>
<ellipse cx="1151" cy="416" rx="20" ry="11" fill="url(#kn)" stroke="#231f20"/><ellipse cx="1151" cy="408" rx="19" ry="13" class="g"/><ellipse cx="1151" cy="407" rx="15" ry="10" fill="#231f20"/><circle cx="1151" cy="407" r="1" fill="#e1342e"/>
<text x="1028" y="485.500" font-size="16.500" textLength="78" lengthAdjust="spacingAndGlyphs">Back cover</text>
<path d="M937 464V492" stroke="#e1342e" stroke-width="2"/><path d="M937 499L933 489H941Z" fill="#e1342e"/>
<path d="M1188 554C1140 562 1095 540 1072 512" fill="none" stroke="#e1342e" stroke-width="2.500"/><path d="M1064 503L1080 510L1071 520Z" fill="#e1342e" stroke="#fff" stroke-width=".8"/>

<!-- STEP 6 -->
<text x="744" y="612" class="j" textLength="65">逆転防止</text><text x="744" y="632" class="j" textLength="106">ロックをする。</text>
<rect x="970.500" y="593.400" width="70.500" height="8" fill="url(#kn2)"/><rect x="970.500" y="603" width="55.500" height="8" fill="#b9babc"/><text x="991" y="610" font-size="7" style="fill:#fff">1</text><text x="1019" y="610" font-size="7" style="fill:#fff">2</text>
<path d="M970.500 611H1018L1023 620V631H970.500Z" fill="#e2e3e4"/><rect x="1033" y="612" width="10" height="19" rx="3" fill="#d1d3d4"/><rect x="988" y="631" width="68.500" height="30" fill="#d1d3d4"/><rect x="970.500" y="631" width="18" height="20" fill="#e2e3e4"/>
<path d="M1161 677H1164Q1172 677 1172 690V700Q1172 710 1164 710H1161" fill="none" stroke="#231f20" stroke-width="5.500"/><path d="M1161 677H1164Q1172 677 1172 690V700Q1172 710 1164 710H1161" fill="none" stroke="#939598" stroke-width="3.500"/>
<path d="M970.500 660.500H1145Q1160.700 660.500 1160.700 677V743.600H970.500Z" class="g" stroke-width="1.200"/><path d="M970.500 734H1160.700" stroke="#231f20"/>
<g transform="translate(546.700,147.900) scale(.567)"><use href="#wind"/></g>
<circle cx="1165" cy="734" r="5.500" class="g"/><circle cx="1165" cy="734" r="2.200" fill="#fff" stroke="#231f20" stroke-width=".6"/>
<path d="M1045 623C1022 624 1008 634 999 645" fill="none" stroke="#e1342e" stroke-width="4" stroke-linecap="round"/><path d="M990 655L994 637L1007 647Z" fill="#e1342e" stroke="#fff" stroke-width=".8"/>
<text x="1060" y="632.500" font-size="17" textLength="43" lengthAdjust="spacingAndGlyphs">“Click”</text>
<text x="777" y="732" font-size="17" textLength="118" lengthAdjust="spacingAndGlyphs">Anti-reverse lock</text>
<line x1="904" y1="725" x2="1051" y2="660" class="ld"/>

<!-- STEP 7 -->
<text x="744" y="794.500" class="j" textLength="389">さらに巻き上げノブを回し、巻き上げ目盛を真上から</text>
<text x="744" y="814.500" class="j" textLength="284">見たときに、印が横にくるようにする。</text>
<rect x="747.500" y="858.700" width="151.500" height="46" fill="#d1d3d4"/><path d="M778.600 858.700V905M781 858.700V905M899 858.700V905" stroke="#b9babc"/>
<path d="M1083 931H1088Q1109 931 1109 951V971Q1109 991 1088 991H1083" fill="none" stroke="#231f20" stroke-width="10"/><path d="M1083 931H1088Q1109 931 1109 951V971Q1109 991 1088 991H1083" fill="none" stroke="#939598" stroke-width="7.500"/>
<path d="M747.500 903.500H1054.700Q1082.700 903.500 1082.700 931V1050.700H747.500Z" class="g" stroke-width="1.400"/><path d="M747.500 1034.700H1082.700" stroke="#231f20" stroke-width="1.400"/>
<use href="#wind"/>
<circle cx="1091" cy="1035" r="11" class="g"/><circle cx="1091" cy="1035" r="4" fill="#fff" stroke="#231f20"/>
<path d="M748 977H1109" stroke="#e8e8e9" stroke-width="4" stroke-dasharray="11 3" stroke-linecap="butt" stroke-opacity=".8"/><path d="M748 977H1109" stroke="#b92f2f" stroke-width="2.400" stroke-dasharray="9 5" stroke-dashoffset="-1" stroke-opacity=".75"/>
<circle cx="1010" cy="978" r="4" fill="#e4432a"/>
<circle cx="929" cy="972" r="16.500" fill="none" stroke="#dc4a2c" stroke-width="3.500"/>
<text x="932" y="872" font-size="17" textLength="98" lengthAdjust="spacingAndGlyphs">Winding scale</text><text x="1060" y="871" font-size="17" textLength="99" lengthAdjust="spacingAndGlyphs">Winding knob</text>
<path d="M941 877L896 938M1070 876L1025 938M929 978L1010 1065" class="ld"/>
<text x="1018" y="1076" font-size="16.500" textLength="119" lengthAdjust="spacingAndGlyphs">Mark [The notch]</text>

<!-- STEP 8 -->
<text x="744" y="1099.500" class="j" textLength="293">巻き上げノブを回して、巻き上げ目盛が</text><text x="744" y="1120" class="j" textLength="204">１周回ったところでとめる。</text>
<text x="665" y="1195" class="n" textLength="138">※裏ぶたを閉める前に</text><text x="665" y="1214" class="n" textLength="153">感光してしまった部分の</text><text x="665" y="1232" class="n" textLength="152">フィルムを巻き取ること</text><text x="665" y="1250" class="n" textLength="152">で、感光していないフィ</text><text x="665" y="1268" class="n" textLength="130">ルムがセットされる。</text>
<rect x="954" y="1167" width="78" height="6" fill="url(#kn2)"/><rect x="965" y="1173" width="56" height="7" fill="#b9babc"/><path d="M972 1180H1012L1026 1196H957Z" fill="#e2e3e4"/><rect x="943" y="1196" width="100" height="21" fill="#d1d3d4" stroke="#c0c1c3" stroke-width=".6"/>
<rect x="855" y="1229" width="14" height="25" rx="6" class="g"/><rect x="1118" y="1229" width="14" height="25" rx="6" class="g"/>
<path d="M880 1217H1108Q1121 1217 1121 1235V1280H865V1232Q865 1217 880 1217Z" class="g" stroke-width="1.200"/><path d="M865 1272.500H1121" stroke="#231f20"/>
<g transform="translate(675.800,847.300) scale(.41)"><use href="#wind"/></g>
<circle cx="900" cy="1248" r="25" class="g" stroke-dasharray="3 2"/><circle cx="900" cy="1248" r="23" fill="#231f20"/><path d="M915 1233A18 18 0 1 0 900 1266M915 1233L916 1240M900 1266L894 1263" fill="none" stroke="#fff" stroke-width=".7"/>
<text transform="translate(907,1264) rotate(-62)" font-size="5" style="fill:#fff" textLength="22">REWIND</text>
<path d="M937 1229H992L985 1265H947Z" class="g"/><rect x="937" y="1209" width="55" height="20" class="d" style="fill:#77787b"/>
<circle cx="1035" cy="1245" r="19" fill="none" stroke="#fff" stroke-width="4.500" stroke-dasharray="44 15"/><circle cx="1035" cy="1245" r="19" fill="none" stroke="#e1342e" stroke-width="2.600" stroke-dasharray="44 15.700"/><path d="M1022 1234L1028 1222L1032 1230Z" fill="#e1342e"/>
<path d="M1103 1219A31 31 0 0 1 1112 1269M1075 1224A31 31 0 0 0 1075 1275" fill="none" stroke="#fff" stroke-width="4.500"/><path d="M1103 1219A31 31 0 0 1 1112 1269M1075 1224A31 31 0 0 0 1075 1275" fill="none" stroke="#e1342e" stroke-width="2.800"/><path d="M1078 1280L1062 1272L1072 1266Z" fill="#e1342e"/>
<path d="M1141 1159L1115 1168L1080 1196C1070 1200 1061 1205 1061 1208L1057 1215L1063 1222L1096 1223.500L1141 1217Z" fill="#f7dcc4"/><path d="M1141 1159L1115 1168L1080 1196C1070 1200 1061 1205 1061 1208L1057 1215L1063 1222L1096 1223.500L1141 1217M1081 1196C1100 1188 1125 1182 1141 1178M1078 1199C1080 1208 1075 1212 1063 1215" fill="none" stroke="#231f20"/>
<path d="M1141 1280L1120 1271L1093 1272L1076 1280L1072.500 1291L1080 1301L1103 1305L1141 1329Z" fill="#f7dcc4"/><path d="M1141 1280L1120 1271L1093 1272L1076 1280L1072.500 1291L1080 1301L1103 1305L1141 1329M1081 1282L1106 1288C1108 1295 1106 1300 1103 1305" fill="none" stroke="#231f20"/>
<path d="M943 1303L1027 1265M1159 1209L1103 1250" class="ld"/>
<text x="1151" y="1184" font-size="17" textLength="59" lengthAdjust="spacingAndGlyphs">Winding</text><text x="1151" y="1205" font-size="17" textLength="37" lengthAdjust="spacingAndGlyphs">knob</text>
<text x="843" y="1311" font-size="17" textLength="98" lengthAdjust="spacingAndGlyphs">Winding scale</text>

<!-- STEP 9 -->
<text x="744" y="1378" class="j" textLength="296">フィルムカウンターを回して、三角印の</text><text x="744" y="1397" class="j" textLength="281">ところにS（スタート）をセットする。</text>
<rect x="789" y="1431" width="75.500" height="5.500" fill="url(#kn2)"/><rect x="800" y="1436.500" width="55" height="7" fill="#b9babc"/><path d="M806 1443.500H848L862 1459H790Z" fill="#e2e3e4"/><rect x="778.700" y="1459" width="96.800" height="21" fill="#d1d3d4" stroke="#c0c1c3" stroke-width=".6"/>
<rect x="692.500" y="1491" width="14" height="24" rx="6" class="g"/><rect x="948" y="1491" width="14" height="24" rx="6" class="g"/>
<path d="M716 1479H938Q951.500 1479 951.500 1495V1539H703V1495Q703 1479 716 1479Z" class="g" stroke-width="1.200"/><path d="M703 1532H951.500" stroke="#231f20"/>
<g transform="translate(516.600,1118) scale(.4)"><use href="#wind"/></g>
<circle cx="737" cy="1509" r="24.500" class="g" stroke-dasharray="3 2"/><circle cx="737" cy="1509" r="22.500" fill="#231f20"/><path d="M720 1512A18 18 0 1 1 750 1522" fill="none" stroke="#fff" stroke-width=".7"/>
<text transform="translate(722,1515) rotate(28)" font-size="5" style="fill:#fff" textLength="24">REWIND</text>
<path d="M773 1491H825L817 1526H783Z" class="g"/><rect x="773" y="1471.500" width="52" height="19.500" class="d" style="fill:#77787b"/>
<circle cx="832" cy="1508" r="16" class="ring" stroke-width="2" stroke-dasharray="6 4"/>
<path d="M802 1535C812 1540 820 1539 826 1535" fill="none" stroke="#e1342e" stroke-width="2"/><path d="M830 1532L824 1543L820 1535Z" fill="#e1342e"/>
<circle cx="954" cy="1532.500" r="4.500" class="g"/><circle cx="954" cy="1532.500" r="1.500" fill="#fff"/>
<path d="M829 1495L1058 1421M829 1524L954 1532.500L1072 1542" class="dash"/>
<g clip-path="url(#cc9)"><rect x="1020" y="1405" width="140" height="145" fill="#939598"/><path d="M1033 1505L1052 1430" stroke="#231f20" stroke-width="1.200" fill="none"/>
<path d="M1054 1410L1084 1410L1098 1440L1105 1472L1110 1478L1105 1483L1102 1512L1082 1545L1050 1545L1056 1522C1070 1505 1075 1490 1074 1475C1072 1455 1062 1440 1054 1425Z" fill="#1d1c1e"/>
<g stroke="#fff" stroke-width="1.200"><path d="M1090 1425L1093 1428M1095 1437L1098 1439M1098 1447L1101 1449M1101 1458L1104 1459M1102 1494L1105 1495M1098 1507L1101 1509M1094 1519L1097 1521M1088 1530L1091 1532"/></g>
<path d="M1147 1458H1143V1470H1147" fill="none" stroke="#231f20" stroke-width="1.200"/></g>
<text transform="translate(1060,1425) rotate(62)" class="b" font-size="22" style="fill:#fff">36</text>
<text transform="translate(1074,1470) rotate(90)" class="b" font-size="19" style="fill:#e4432a">S</text>
<text transform="translate(1066,1510) rotate(60)" class="b" font-size="22" style="fill:#fff">4</text>
<circle cx="1090" cy="1476.500" r="63.500" class="ring" stroke-width="5.500"/>
<line x1="1154" y1="1418" x2="1106" y2="1478" class="ld"/>
<text x="1117" y="1412" font-size="16.500" textLength="94" lengthAdjust="spacingAndGlyphs">Triangle mark</text>
</svg>
</body></html>
